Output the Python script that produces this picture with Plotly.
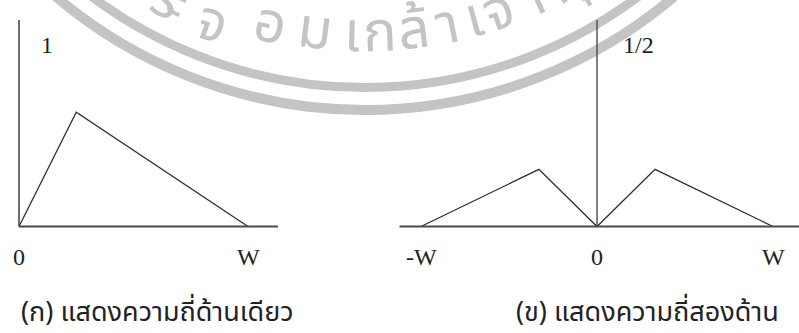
import math
import plotly.graph_objects as go

# ---- spectrum data ----
one_sided_f = [0, 0.25, 1.0]          # frequency in units of W
one_sided_a = [0, 0.63, 0]
two_sided_f = [-1.0, -0.33, 0, 0.33, 1.0]
two_sided_a = [0, 0.315, 0, 0.315, 0]

left_ticks = ["0", "W"]
left_tick_pos = [0, 1]
right_ticks = ["-W", "0", "W"]
right_tick_pos = [-1, 0, 1]

captions = ["(ก) แสดงความถี่ด้านเดียว", "(ข) แสดงความถี่สองด้าน"]
scale_labels = ["1", "1/2"]

# seal text (glyph clusters), angular positions in degrees and radii in px
seal_glyphs = ["ร", "ะ", "จ", "อ", "ม", "เ", "ก", "ล้", "า", "เ", "จ้", "า", "คุ"]
seal_angles = [-27.3, -25.8, -20.5, -13.0, -6.9, -1.7, 2.1, 6.7, 11.4, 15.2, 18.7, 23.5, 28.6]
seal_radii = [433, 430, 437, 421, 419, 419, 419, 419, 419, 419, 419, 419, 419]

W_PX, H_PX = 799, 333
INK = "#2e2e2e"
AXIS = "#4a4a4a"
SEAL = "#c4c4c4"
SERIF = "Liberation Serif, Times New Roman, serif"
THAI = "Noto Sans Thai, Noto Sans Thai Looped, Loma, Garuda, Noto Sans, sans-serif"

fig = go.Figure()

fig.add_trace(go.Scatter(x=one_sided_f, y=one_sided_a, mode="lines",
                         line=dict(color=INK, width=1.3), xaxis="x", yaxis="y",
                         showlegend=False, hoverinfo="skip"))
fig.add_trace(go.Scatter(x=two_sided_f, y=two_sided_a, mode="lines",
                         line=dict(color=INK, width=1.3), xaxis="x2", yaxis="y2",
                         showlegend=False, hoverinfo="skip"))

# axis scales: left panel 229 px per W, right panel 176 px per W, 181.5 px per unit amplitude
x1_range = [-19 / 229, (399.5 - 19) / 229]
x2_range = [(399.5 - 597) / 176, (799 - 597) / 176]
y_range = [(226.5 - 333) / 181.5, 226.5 / 181.5]

hidden = dict(visible=False, showgrid=False, zeroline=False, fixedrange=True)
fig.update_layout(
    width=W_PX, height=H_PX,
    margin=dict(l=0, r=0, t=0, b=0),
    paper_bgcolor="white", plot_bgcolor="rgba(0,0,0,0)",
    xaxis=dict(domain=[0, 0.5], range=x1_range, **hidden),
    xaxis2=dict(domain=[0.5, 1], range=x2_range, **hidden),
    yaxis=dict(domain=[0, 1], range=y_range, anchor="x", **hidden),
    yaxis2=dict(domain=[0, 1], range=y_range, anchor="x2", **hidden),
)

y_top = (226.5 - 20) / 181.5
shapes = [
    # seal rings
    dict(type="circle", xref="paper", yref="paper", layer="below",
         x0=(365 - 455.5) / W_PX, x1=(365 + 455.5) / W_PX,
         y0=1 - (-368 + 455.5) / H_PX, y1=1 - (-368 - 455.5) / H_PX,
         line=dict(color=SEAL, width=9)),
    dict(type="circle", xref="paper", yref="paper", layer="below",
         x0=(365 - 478) / W_PX, x1=(365 + 478) / W_PX,
         y0=1 - (-368 + 478) / H_PX, y1=1 - (-368 - 478) / H_PX,
         line=dict(color=SEAL, width=10)),
    # left panel axes
    dict(type="line", xref="x", yref="y", x0=0, x1=0, y0=0, y1=y_top,
         line=dict(color=AXIS, width=1.6)),
    dict(type="line", xref="x", yref="y", x0=0, x1=(278 - 19) / 229, y0=0, y1=0,
         line=dict(color=AXIS, width=1.8)),
    # right panel axes
    dict(type="line", xref="x2", yref="y2", x0=0, x1=0, y0=0, y1=y_top,
         line=dict(color=AXIS, width=1.4)),
    dict(type="line", xref="x2", yref="y2", x0=(397 - 597) / 176, x1=(799 - 597) / 176,
         y0=0, y1=0, line=dict(color=AXIS, width=1.8)),
]

annotations = []
label_y = (226.5 - 257) / 181.5
for t, p in zip(left_ticks, left_tick_pos):
    annotations.append(dict(x=p, y=label_y, xref="x", yref="y", text=t, showarrow=False,
                            font=dict(family=SERIF, size=24, color="#222"),
                            xanchor="center", yanchor="middle"))
for t, p in zip(right_ticks, right_tick_pos):
    annotations.append(dict(x=p, y=label_y, xref="x2", yref="y2", text=t, showarrow=False,
                            font=dict(family=SERIF, size=24, color="#222"),
                            xanchor="center", yanchor="middle"))

annotations.append(dict(x=(47 - 19) / 229, y=1.0, xref="x", yref="y", text=scale_labels[0],
                        showarrow=False, font=dict(family=SERIF, size=24, color="#222"),
                        xanchor="center", yanchor="middle"))
annotations.append(dict(x=(638 - 597) / 176, y=1.0, xref="x2", yref="y2", text=scale_labels[1],
                        showarrow=False, font=dict(family=SERIF, size=24, color="#222"),
                        xanchor="center", yanchor="middle"))

for cap, cx in zip(captions, [157 / W_PX, 647 / W_PX]):
    annotations.append(dict(x=cx, y=1 - 312 / H_PX, xref="paper", yref="paper", text=cap,
                            showarrow=False, font=dict(family=THAI, size=27, color="#222"),
                            xanchor="center", yanchor="middle"))

# seal lettering around the inner ring
SEAL_CX, SEAL_CY = 365, -385
for g, ang, rad in zip(seal_glyphs, seal_angles, seal_radii):
    a = math.radians(ang)
    px = SEAL_CX + rad * math.sin(a)
    py = SEAL_CY + rad * math.cos(a)
    annotations.append(dict(x=px / W_PX, y=1 - py / H_PX, xref="paper", yref="paper",
                            text=g, showarrow=False, textangle=-ang,
                            font=dict(family=THAI, size=56, color=SEAL),
                            xanchor="center", yanchor="middle"))

fig.update_layout(shapes=shapes, annotations=annotations)
fig.write_html("out.html")
